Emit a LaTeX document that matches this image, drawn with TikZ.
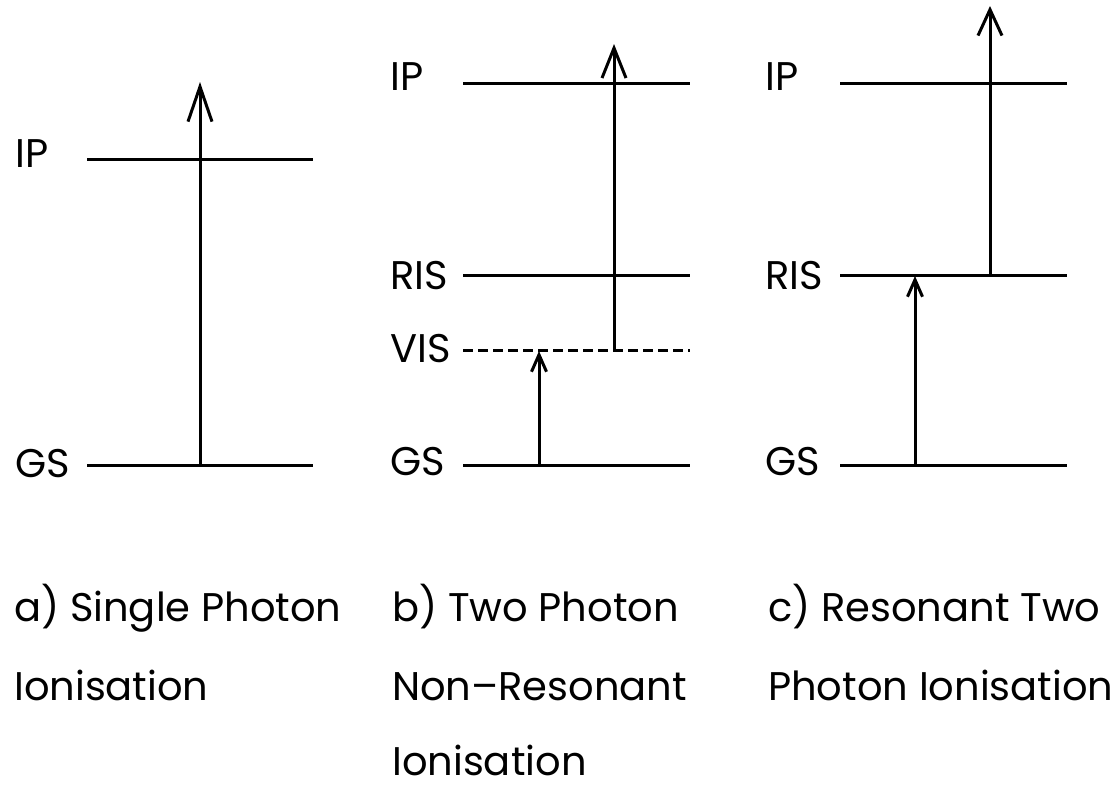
\documentclass[tikz,border=0pt]{standalone}
\usepackage{fontspec}
\setmainfont{Poppins}
\usetikzlibrary{arrows.meta}
\begin{document}
\begin{tikzpicture}[x=1pt,y=-1pt,
  level/.style={line width=3pt},
  virt/.style={line width=3pt, dash pattern=on 10pt off 5pt},
  photon/.style={line width=3pt, -{Straight Barb[length=#1,width=24pt]}},
  smallphoton/.style={line width=3pt, -{Straight Barb[length=17pt,width=15pt]}},
  lab/.style={anchor=base west, inner sep=0pt, font=\fontsize{40}{48}\selectfont},
]
\useasboundingbox (0,0) rectangle (1112,788);

% ---------- panel a ----------
\coordinate (aIPl) at (87,159);  \coordinate (aIPr) at (313,159);
\coordinate (aGSl) at (87,465);  \coordinate (aGSr) at (313,465);
\draw[level] (aIPl) -- (aIPr);
\draw[level] (aGSl) -- (aGSr);
\coordinate (aA0) at (200,465); \coordinate (aA1) at (200,82);
\draw[photon=35pt] (aA0) -- (aA1);
\node[lab] (aIP) at (15,167) {IP};
\node[lab] (aGS) at (15,477) {GS};

% ---------- panel b ----------
\coordinate (bIPl) at (463,83);   \coordinate (bIPr) at (690,83);
\coordinate (bRISl) at (463,275); \coordinate (bRISr) at (690,275);
\coordinate (bVISl) at (463,350); \coordinate (bVISr) at (690,350);
\coordinate (bGSl) at (463,465);  \coordinate (bGSr) at (690,465);
\draw[level] (bIPl) -- (bIPr);
\draw[level] (bRISl) -- (bRISr);
\draw[virt] (bVISl) -- (bVISr);
\draw[level] (bGSl) -- (bGSr);
\coordinate (bA0) at (539,465); \coordinate (bA1) at (539,351);
\draw[smallphoton] (bA0) -- (bA1);
\coordinate (bB0) at (614,350); \coordinate (bB1) at (614,44);
\draw[photon=30pt] (bB0) -- (bB1);
\node[lab] (bIP)  at (390,90)  {IP};
\node[lab] (bRIS) at (390,289) {RIS};
\node[lab] (bVIS) at (390,362) {VIS};
\node[lab] (bGS)  at (390,475) {GS};

% ---------- panel c ----------
\coordinate (cIPl) at (840,83);   \coordinate (cIPr) at (1067,83);
\coordinate (cRISl) at (840,275); \coordinate (cRISr) at (1067,275);
\coordinate (cGSl) at (840,465);  \coordinate (cGSr) at (1067,465);
\draw[level] (cIPl) -- (cIPr);
\draw[level] (cRISl) -- (cRISr);
\draw[level] (cGSl) -- (cGSr);
\coordinate (cA0) at (915,465); \coordinate (cA1) at (915,276);
\draw[smallphoton] (cA0) -- (cA1);
\coordinate (cB0) at (990,275); \coordinate (cB1) at (990,6);
\draw[photon=26pt] (cB0) -- (cB1);
\node[lab] (cIP)  at (765,90)  {IP};
\node[lab] (cRIS) at (765,289) {RIS};
\node[lab] (cGS)  at (765,475) {GS};

% ---------- captions ----------
\node[lab] (capa1) at (14,621)  {a) Single Photon};
\node[lab] (capa2) at (14,700)  {Ionisation};
\node[lab] (capb1) at (392,621) {b) Two Photon};
\node[lab] (capb2) at (392,700) {Non--Resonant};
\node[lab] (capb3) at (392,775) {Ionisation};
\node[lab] (capc1) at (768,621) {c) Resonant Two};
\node[lab] (capc2) at (768,700) {Photon Ionisation};
\end{tikzpicture}
\end{document}
